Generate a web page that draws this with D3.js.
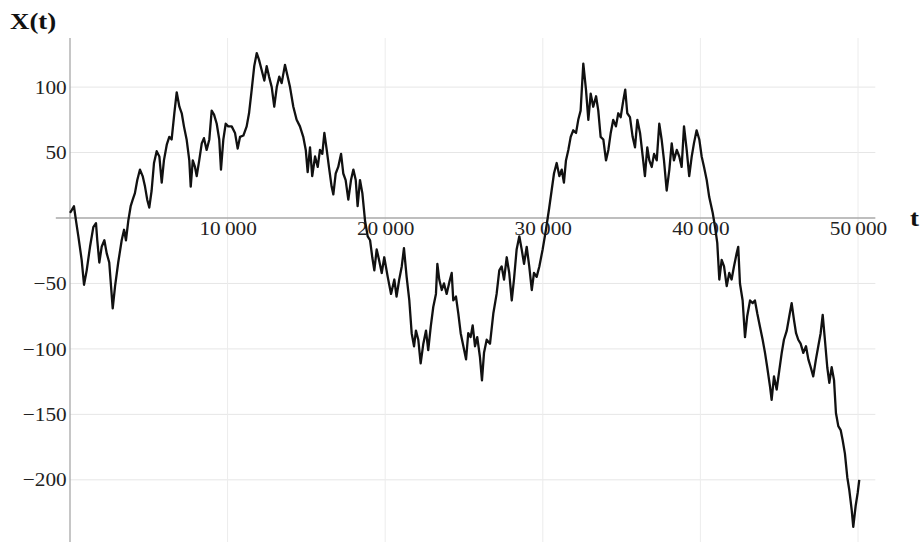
<!DOCTYPE html>
<html>
<head>
<meta charset="utf-8">
<script src="https://cdn.jsdelivr.net/npm/d3@7"></script>
<style>
  body { margin: 0; background: #fff; }
  svg { display: block; }
  .tick text { font-family: "Liberation Serif", "DejaVu Serif", serif; fill: #222; }
</style>
</head>
<body>
<script>
// random walk X(t) as [t, X]
var walk = [
  [0, 4], [110, 6], [250, 9], [380, -2], [530, -14], [740, -32], [890, -51], [1060, -40], [1270, -22],
  [1480, -7], [1650, -4], [1730, -17], [1860, -34], [2010, -22], [2180, -17], [2330, -27], [2490, -34],
  [2710, -69], [2860, -52], [3060, -34], [3280, -17], [3430, -9], [3550, -17], [3700, -2], [3850, 9],
  [3980, 14], [4120, 19], [4270, 29], [4440, 37], [4610, 32], [4760, 24], [4900, 14], [5030, 8],
  [5180, 21], [5330, 42], [5500, 51], [5670, 47], [5820, 27], [5960, 44], [6140, 56], [6300, 62],
  [6450, 60], [6620, 80], [6770, 96], [6940, 85], [7090, 80], [7230, 70], [7400, 60], [7570, 44],
  [7660, 24], [7790, 44], [7930, 39], [8040, 32], [8200, 44], [8360, 57], [8500, 61], [8670, 52],
  [8840, 60], [8990, 82], [9140, 79], [9310, 72], [9470, 60], [9580, 37], [9730, 60], [9880, 72],
  [10040, 70], [10260, 70], [10470, 65], [10640, 53], [10790, 62], [11000, 63], [11210, 70],
  [11360, 80], [11530, 98], [11690, 116], [11850, 126], [11990, 121], [12160, 113], [12330, 105],
  [12480, 116], [12630, 108], [12800, 100], [12960, 85], [13120, 100], [13280, 108], [13430, 103],
  [13640, 117], [13810, 108], [13960, 100], [14170, 85], [14380, 75], [14590, 70], [14800, 62],
  [14960, 52], [15080, 35], [15230, 54], [15370, 32], [15550, 47], [15720, 39], [15860, 52],
  [16010, 49], [16140, 65], [16290, 52], [16430, 39], [16600, 24], [16710, 18], [16860, 34],
  [17020, 39], [17200, 49], [17340, 34], [17490, 29], [17660, 14], [17830, 29], [17980, 37],
  [18130, 29], [18250, 9], [18400, 29], [18550, 19], [18720, -2], [18890, -14], [19040, -17],
  [19180, -30], [19310, -40], [19460, -24], [19610, -32], [19780, -42], [19940, -30], [20160, -45],
  [20370, -58], [20580, -47], [20720, -60], [20890, -47], [21050, -37], [21190, -23], [21360, -45],
  [21530, -63], [21680, -88], [21830, -98], [21950, -86], [22100, -93], [22250, -111], [22420, -96],
  [22590, -86], [22730, -101], [22890, -83], [23050, -68], [23220, -58], [23310, -35], [23430, -47],
  [23590, -55], [23730, -50], [23900, -58], [24070, -49], [24220, -42], [24320, -63], [24490, -60],
  [24640, -73], [24790, -88], [24960, -98], [25130, -108], [25270, -88], [25420, -91], [25550, -82],
  [25700, -98], [25840, -91], [26010, -106], [26140, -124], [26270, -103], [26440, -93], [26650, -96],
  [26860, -73], [27070, -58], [27240, -40], [27390, -37], [27540, -47], [27710, -30], [27870, -42],
  [28030, -63], [28170, -47], [28340, -24], [28510, -14], [28660, -24], [28810, -35], [28980, -22],
  [29140, -37], [29300, -55], [29440, -42], [29610, -45], [29780, -37], [29990, -24], [30200, -9],
  [30410, 8], [30560, 21], [30710, 34], [30880, 42], [31050, 32], [31200, 37], [31340, 27],
  [31470, 44], [31620, 52], [31770, 62], [31930, 67], [32110, 65], [32250, 75], [32400, 82],
  [32570, 118], [32740, 98], [32890, 75], [33040, 95], [33200, 85], [33380, 93], [33520, 82],
  [33670, 62], [33840, 60], [34010, 44], [34160, 52], [34310, 65], [34470, 75], [34640, 70],
  [34790, 80], [34940, 77], [35110, 90], [35230, 98], [35360, 80], [35530, 77], [35700, 62],
  [35850, 54], [36000, 75], [36170, 65], [36340, 47], [36480, 32], [36630, 54], [36760, 44],
  [36910, 39], [37060, 49], [37230, 44], [37390, 72], [37540, 60], [37690, 44], [37860, 21],
  [38030, 37], [38180, 57], [38320, 44], [38500, 52], [38660, 47], [38810, 39], [38960, 70],
  [39130, 52], [39290, 32], [39450, 47], [39590, 57], [39760, 67], [39930, 60], [40080, 47],
  [40230, 39], [40400, 29], [40560, 16], [40780, 4], [40930, -7], [41070, -19], [41200, -47],
  [41350, -32], [41500, -37], [41670, -52], [41830, -42], [41980, -47], [42130, -37], [42300, -27],
  [42400, -22], [42510, -50], [42680, -63], [42830, -91], [42970, -75], [43150, -63], [43320, -65],
  [43460, -63], [43610, -73], [43780, -83], [43950, -93], [44100, -103], [44240, -114], [44420, -129],
  [44520, -139], [44670, -121], [44840, -131], [45010, -116], [45160, -103], [45300, -93],
  [45480, -86], [45640, -75], [45790, -65], [45940, -78], [46070, -88], [46210, -93], [46360, -96],
  [46530, -103], [46700, -98], [46850, -108], [47000, -114], [47160, -121], [47330, -108],
  [47480, -98], [47630, -88], [47760, -74], [47900, -93], [48050, -114], [48180, -126], [48330, -114],
  [48480, -124], [48600, -149], [48750, -159], [48900, -162], [49030, -170], [49170, -180],
  [49320, -198], [49450, -208], [49600, -223], [49700, -236], [49850, -220], [49980, -210], [50080, -200]
];

var xTicks = [10000, 20000, 30000, 40000, 50000];
var xTickLabels = ["10\u2009000", "20\u2009000", "30\u2009000", "40\u2009000", "50\u2009000"];
var yTicks = [-200, -150, -100, -50, 50, 100];

var width = 921, height = 542;
var stretch = "scale(1.12,1)"; // the scan is a bit wider than tall

var x = d3.scaleLinear().domain([0, 50000]).range([70, 858]);
var y = d3.scaleLinear().domain([-247.5, 137.5]).range([542, 38]);

var svg = d3.select("body").append("svg")
  .attr("width", width).attr("height", height);

// faint grid
svg.append("g").selectAll("line").data(yTicks).enter().append("line")
  .attr("x1", x(0)).attr("x2", x(51100))
  .attr("y1", function(d) { return y(d); }).attr("y2", function(d) { return y(d); })
  .attr("stroke", "#e6e6e6").attr("stroke-width", 1);
svg.append("g").selectAll("line").data(xTicks).enter().append("line")
  .attr("y1", y(137.5)).attr("y2", y(-247.5))
  .attr("x1", function(d) { return x(d); }).attr("x2", function(d) { return x(d); })
  .attr("stroke", "#ececec").attr("stroke-width", 1);

// axes
var xAxis = d3.axisBottom(x).tickValues(xTicks).tickSize(0).tickPadding(4)
  .tickFormat(function(d, i) { return xTickLabels[i]; });
var gx = svg.append("g").attr("transform", "translate(0," + y(0) + ")").call(xAxis);
gx.select(".domain").remove();
gx.append("line").attr("x1", x(-900)).attr("x2", x(51100))
  .attr("stroke", "#a8a8a8").attr("stroke-width", 1.3);
gx.selectAll(".tick text").attr("font-size", 19).attr("transform", stretch);

var yAxis = d3.axisLeft(y).tickValues(yTicks).tickSize(0).tickPadding(3);
var gy = svg.append("g").attr("transform", "translate(" + x(0) + ",0)").call(yAxis);
gy.select(".domain").remove();
gy.append("line").attr("y1", y(137.5)).attr("y2", y(-247.5))
  .attr("stroke", "#a8a8a8").attr("stroke-width", 1.3);
gy.selectAll(".tick text").attr("font-size", 19).attr("transform", stretch);

// the walk
var line = d3.line()
  .x(function(d) { return x(d[0]); })
  .y(function(d) { return y(d[1]); });

svg.append("path").datum(walk)
  .attr("d", line)
  .attr("fill", "none")
  .attr("stroke", "#111")
  .attr("stroke-width", 2.3)
  .attr("stroke-linejoin", "round");

// axis titles
svg.append("text").attr("transform", "translate(10,29) " + stretch)
  .attr("font-family", "Liberation Serif, serif").attr("font-weight", "bold")
  .attr("font-size", 24).attr("fill", "#111").text("X(t)");
svg.append("text").attr("transform", "translate(910,226) " + stretch)
  .attr("font-family", "Liberation Serif, serif").attr("font-weight", "bold")
  .attr("font-size", 24).attr("fill", "#111").text("t");
</script>
</body>
</html>
